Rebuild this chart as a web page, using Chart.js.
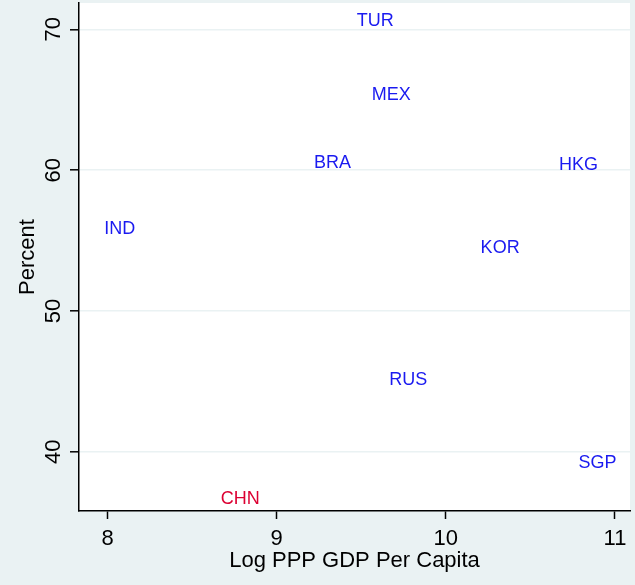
<!DOCTYPE html>
<html>
<head>
<meta charset="utf-8">
<script src="https://cdn.jsdelivr.net/npm/chart.js@4"></script>
<style>
  html, body { margin: 0; padding: 0; background: #eaf2f3; }
  #wrap { width: 635px; height: 585px; }
</style>
</head>
<body>
<div id="wrap"><canvas id="scatterChart" width="635" height="585"></canvas></div>
<script>
// country codes and values
const countries = ['TUR', 'MEX', 'BRA', 'HKG', 'KOR', 'IND', 'RUS', 'SGP', 'CHN'];
const logGdp = [9.455, 9.544, 9.203, 10.652, 10.188, 7.963, 9.648, 10.767, 8.652];
const percent = [70.66, 65.39, 60.59, 60.43, 54.51, 55.89, 45.18, 39.29, 36.69];
const highlighted = ['CHN'];

const xTicks = [8, 9, 10, 11];
const yTicks = [40, 50, 60, 70];

const FONT = '"Liberation Sans", Arial, Helvetica, sans-serif';
const BG = '#eaf2f3';

// background + white plot region
const bgPlugin = {
    id: 'bg',
    beforeDraw(chart) {
        const { ctx, chartArea } = chart;
        ctx.save();
        ctx.fillStyle = BG;
        ctx.fillRect(0, 0, chart.width, chart.height);
        ctx.fillStyle = '#ffffff';
        ctx.fillRect(chartArea.left, chartArea.top, chartArea.right - chartArea.left, chartArea.bottom - chartArea.top);
        ctx.restore();
    }
};

// country labels drawn right of each (invisible) point
const labelPlugin = {
    id: 'labels',
    afterDatasetsDraw(chart) {
        const { ctx } = chart;
        const meta = chart.getDatasetMeta(0);
        ctx.save();
        ctx.font = '18px ' + FONT;
        ctx.textAlign = 'left';
        ctx.textBaseline = 'middle';
        meta.data.forEach((pt, i) => {
            ctx.fillStyle = highlighted.includes(countries[i]) ? '#dc0032' : '#1a1af0';
            ctx.fillText(countries[i], pt.x + 3, pt.y + 1);
        });
        ctx.restore();
    }
};

// vertical y tick labels (Stata style)
const yLabelPlugin = {
    id: 'yLabels',
    afterDraw(chart) {
        const { ctx } = chart;
        const y = chart.scales.y;
        ctx.save();
        ctx.font = '22px ' + FONT;
        ctx.fillStyle = '#000000';
        ctx.textAlign = 'center';
        ctx.textBaseline = 'alphabetic';
        y.ticks.forEach(t => {
            const py = y.getPixelForValue(t.value);
            ctx.save();
            ctx.translate(60, py);
            ctx.rotate(-Math.PI / 2);
            ctx.fillText(String(t.value), 0, 0);
            ctx.restore();
        });
        ctx.restore();
    }
};

const ctx = document.getElementById('scatterChart').getContext('2d');
const chart = new Chart(ctx, {
    type: 'scatter',
    data: {
        datasets: [{
            label: 'Percent',
            data: countries.map((c, i) => ({ x: logGdp[i], y: percent[i] })),
            pointRadius: 0,
            pointHoverRadius: 0
        }]
    },
    options: {
        responsive: false,
        animation: false,
        events: [],
        layout: { padding: { left: 0, right: 5, top: 3, bottom: 0 } },
        plugins: {
            legend: { display: false },
            tooltip: { enabled: false }
        },
        scales: {
            x: {
                type: 'linear',
                min: 7.831,
                max: 11.089,
                afterBuildTicks: scale => { scale.ticks = xTicks.map(v => ({ value: v })); },
                afterFit: scale => { scale.height = 74; },
                ticks: {
                    font: { family: FONT, size: 22 },
                    color: '#000000',
                    padding: 7,
                    maxRotation: 0,
                    callback: v => String(v)
                },
                grid: {
                    drawOnChartArea: false,
                    drawTicks: true,
                    tickLength: 8,
                    tickColor: '#000000',
                    tickWidth: 1.5
                },
                border: { color: '#000000', width: 1.5 },
                title: {
                    display: true,
                    text: 'Log PPP GDP Per Capita',
                    font: { family: FONT, size: 22 },
                    color: '#000000',
                    padding: { top: 0, bottom: 11 }
                }
            },
            y: {
                type: 'linear',
                min: 35.8,
                max: 71.87,
                afterBuildTicks: scale => { scale.ticks = yTicks.map(v => ({ value: v })); },
                afterFit: scale => { scale.width = 79; },
                ticks: { display: false },
                grid: {
                    color: BG,
                    lineWidth: 1.6,
                    drawTicks: true,
                    tickLength: 9,
                    tickColor: '#000000',
                    tickWidth: 1.5
                },
                border: { color: '#000000', width: 1.5 },
                title: {
                    display: true,
                    text: 'Percent',
                    font: { family: FONT, size: 22 },
                    color: '#000000',
                    padding: { top: 15, bottom: 0 }
                }
            }
        }
    },
    plugins: [bgPlugin, labelPlugin, yLabelPlugin]
});
</script>
</body>
</html>
